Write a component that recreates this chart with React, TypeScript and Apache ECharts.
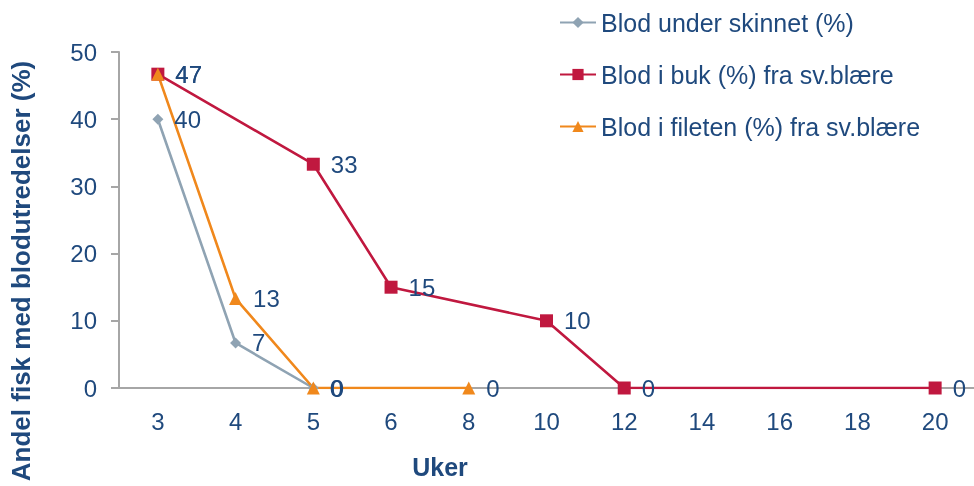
import React, { useEffect, useRef } from "react";
import * as echarts from "echarts";

const weeks = ["3", "4", "5", "6", "8", "10", "12", "14", "16", "18", "20"];
const underSkinn = [40, 6.7, 0, null, null, null, null, null, null, null, null];
const iBuk = [46.7, null, 33.3, 15, null, 10, 0, null, null, null, 0];
const iFileten = [46.7, 13.3, 0, null, 0, null, null, null, null, null, null];
const seriesNames = ["Blod under skinnet (%)", "Blod i buk (%) fra sv.blære", "Blod i fileten (%) fra sv.blære"];
const yTitle = "Andel fisk med blodutredelser (%)";
const xTitle = "Uker";

const TEXT = "#1F497D";
const FONT = "'Liberation Sans', Arial, sans-serif";

export default function App() {
  const ref = useRef<HTMLDivElement>(null);
  useEffect(() => {
    const chart = echarts.init(ref.current!, null, { renderer: "svg" });
    const label = {
      show: true,
      position: "right",
      distance: 11,
      color: TEXT,
      fontSize: 24,
      fontFamily: FONT,
      formatter: (p: any) => String(Math.round(p.value)),
    };
    const mk = (name: string, data: any[], color: string, symbol: string, size: number) => ({
      name,
      type: "line",
      data,
      connectNulls: true,
      symbol,
      symbolSize: size,
      itemStyle: { color },
      lineStyle: { color, width: 2.6 },
      label,
    });
    chart.setOption({
      animation: false,
      textStyle: { fontFamily: FONT },
      grid: { left: 119, right: 0, top: 52, bottom: 98, containLabel: false },
      legend: {
        orient: "vertical",
        left: 554,
        top: 4,
        itemWidth: 36,
        itemHeight: 14,
        itemGap: 25,
        itemTextGap: 4,
        textStyle: { color: TEXT, fontSize: 25, lineHeight: 27, fontFamily: FONT },
        data: seriesNames,
      },
      xAxis: {
        type: "category",
        data: weeks,
        boundaryGap: true,
        axisLine: { lineStyle: { color: "#A6A6A6", width: 2 } },
        axisTick: { show: false },
        axisLabel: { color: TEXT, fontSize: 24, margin: 21, fontFamily: FONT },
      },
      yAxis: {
        type: "value",
        min: 0,
        max: 50,
        interval: 10,
        splitLine: { show: false },
        axisLine: { show: true, lineStyle: { color: "#A6A6A6", width: 2 } },
        axisTick: { show: true, length: 8, lineStyle: { color: "#A6A6A6", width: 2 } },
        axisLabel: { color: TEXT, fontSize: 24, margin: 22, fontFamily: FONT },
      },
      graphic: [
        {
          type: "text",
          x: 21,
          y: 271,
          rotation: Math.PI / 2,
          style: {
            text: yTitle,
            fill: TEXT,
            font: `bold 26px ${FONT}`,
            textAlign: "center",
            textVerticalAlign: "middle",
          },
        },
        {
          type: "text",
          x: 440,
          y: 467,
          style: {
            text: xTitle,
            fill: TEXT,
            font: `bold 25px ${FONT}`,
            textAlign: "center",
            textVerticalAlign: "middle",
          },
        },
      ],
      series: [
        mk(seriesNames[0], underSkinn, "#8FA3B3", "diamond", 11),
        mk(seriesNames[1], iBuk, "#C0183F", "rect", 13),
        mk(seriesNames[2], iFileten, "#F0881C", "triangle", 13),
      ],
    });
    return () => chart.dispose();
  }, []);
  return <div ref={ref} style={{ position: "fixed", left: 0, top: 0, width: 974, height: 486 }} />;
}
